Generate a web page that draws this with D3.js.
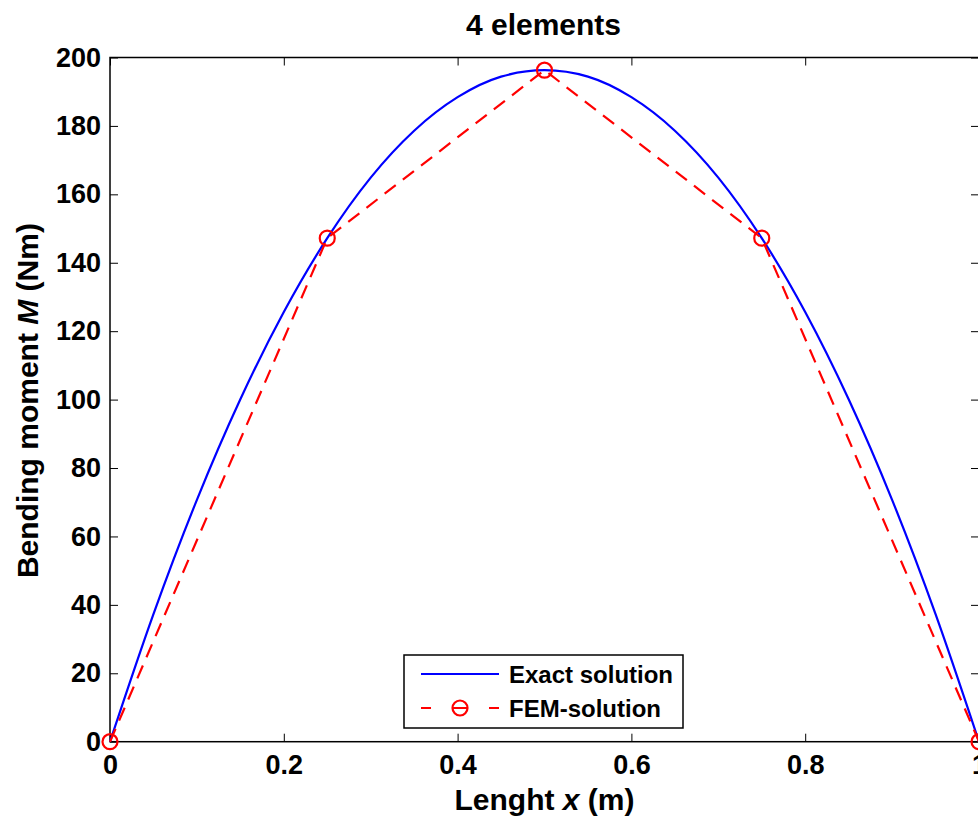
<!DOCTYPE html>
<html><head><meta charset="utf-8">
<script src="https://cdn.jsdelivr.net/npm/d3@7"></script>
<style>body{margin:0;background:#fff;} svg{display:block;font-family:"Liberation Sans",Arial,sans-serif;font-weight:bold;}</style>
</head><body>
<svg id="c" width="978" height="817"></svg>
<script>
// Exact solution
const exactX = [0,0.05,0.1,0.15,0.2,0.25,0.3,0.35,0.4,0.45,0.5,0.55,0.6,0.65,0.7,0.75,0.8,0.85,0.9,0.95,1];
const exactM = [0,37.3,70.7,100.1,125.6,147.2,164.9,178.6,188.4,194.4,196.3,194.4,188.4,178.6,164.9,147.2,125.6,100.1,70.7,37.3,0];
// FEM solution nodes
const femX = [0,0.25,0.5,0.75,1];
const femM = [0,147.2,196.3,147.2,0];
const xTicks = [0,0.2,0.4,0.6,0.8,1];
const yTicks = [0,20,40,60,80,100,120,140,160,180,200];
const titleText = "4 elements";
const seriesNames = ["Exact solution","FEM-solution"];

const svg = d3.select("#c");
const L=110, R=979, T=57.5, B=741.7;
const x = d3.scaleLinear().domain([0,1]).range([L,R]);
const y = d3.scaleLinear().domain([0,200]).range([B,T]);

const tk = 8;
const g = svg.append("g");
g.append("g").attr("transform",`translate(0,${B})`)
  .call(d3.axisBottom(x).tickValues(xTicks).tickSize(-tk).tickPadding(13).tickFormat(d=>d3.format("")(d)))
  .call(s=>{s.select(".domain").remove(); s.selectAll("line").attr("stroke","#000").attr("stroke-width",1);
    s.selectAll("text").attr("font-size",27).attr("font-family","Liberation Sans, Arial").attr("font-weight","bold").attr("fill","#000");});
g.append("g").attr("transform",`translate(${L},0)`)
  .call(d3.axisLeft(y).tickValues(yTicks).tickSize(-tk).tickPadding(9))
  .call(s=>{s.select(".domain").remove(); s.selectAll("line").attr("stroke","#000");
    s.selectAll("text").attr("font-size",27).attr("font-family","Liberation Sans, Arial").attr("font-weight","bold").attr("fill","#000");});
g.append("g").attr("transform",`translate(0,${T})`)
  .call(d3.axisTop(x).tickValues(xTicks).tickSize(-tk).tickFormat(""))
  .call(s=>{s.select(".domain").remove(); s.selectAll("line").attr("stroke","#000");});
g.append("g").attr("transform",`translate(${R},0)`)
  .call(d3.axisRight(y).tickValues(yTicks).tickSize(-tk).tickFormat(""))
  .call(s=>{s.select(".domain").remove(); s.selectAll("line").attr("stroke","#000");});
svg.append("rect").attr("x",L).attr("y",T).attr("width",R-L).attr("height",B-T)
  .attr("fill","none").attr("stroke","#000").attr("stroke-width",1.5);

const exact = exactX.map((d,i)=>[d,exactM[i]]);
svg.append("path").datum(exact)
  .attr("d", d3.line().x(d=>x(d[0])).y(d=>y(d[1])).curve(d3.curveMonotoneX))
  .attr("fill","none").attr("stroke","#0000ff").attr("stroke-width",2.2);

const fem = femX.map((d,i)=>[d,femM[i]]);
svg.append("path").datum(fem)
  .attr("d", d3.line().x(d=>x(d[0])).y(d=>y(d[1])))
  .attr("fill","none").attr("stroke","#ff0000").attr("stroke-width",2.2).attr("stroke-dasharray","14,9");
svg.selectAll("circle.m").data(fem).enter().append("circle")
  .attr("cx",d=>x(d[0])).attr("cy",d=>y(d[1])).attr("r",7.5)
  .attr("fill","none").attr("stroke","#ff0000").attr("stroke-width",2.2);

svg.append("text").attr("x",(L+R)/2-1).attr("y",35).attr("text-anchor","middle")
  .attr("font-size",30).text(titleText);
const xl = svg.append("text").attr("x",(L+R)/2).attr("y",810).attr("text-anchor","middle").attr("font-size",30);
xl.append("tspan").text("Lenght ");
xl.append("tspan").attr("font-style","italic").text("x");
xl.append("tspan").text(" (m)");
const yl = svg.append("text").attr("transform",`translate(38,${(T+B)/2+1}) rotate(-90)`).attr("text-anchor","middle").attr("font-size",30);
yl.append("tspan").text("Bending moment ");
yl.append("tspan").attr("font-style","italic").text("M");
yl.append("tspan").text(" (Nm)");

const lg = svg.append("g");
lg.append("rect").attr("x",404).attr("y",655).attr("width",279).attr("height",73)
  .attr("fill","#fff").attr("stroke","#000").attr("stroke-width",1.5);
lg.append("line").attr("x1",421).attr("x2",499).attr("y1",674).attr("y2",674)
  .attr("stroke","#0000ff").attr("stroke-width",2.2);
lg.append("line").attr("x1",421).attr("x2",499).attr("y1",708).attr("y2",708)
  .attr("stroke","#ff0000").attr("stroke-width",2.2).attr("stroke-dasharray","10,22,14,22,10");
lg.append("circle").attr("cx",460).attr("cy",708).attr("r",7.5).attr("fill","none").attr("stroke","#ff0000").attr("stroke-width",2.2);
lg.selectAll("text.l").data(seriesNames).enter().append("text")
  .attr("x",509).attr("y",(d,i)=>674+i*34+8.5).attr("font-size",24).text(d=>d);
</script>
</body></html>
